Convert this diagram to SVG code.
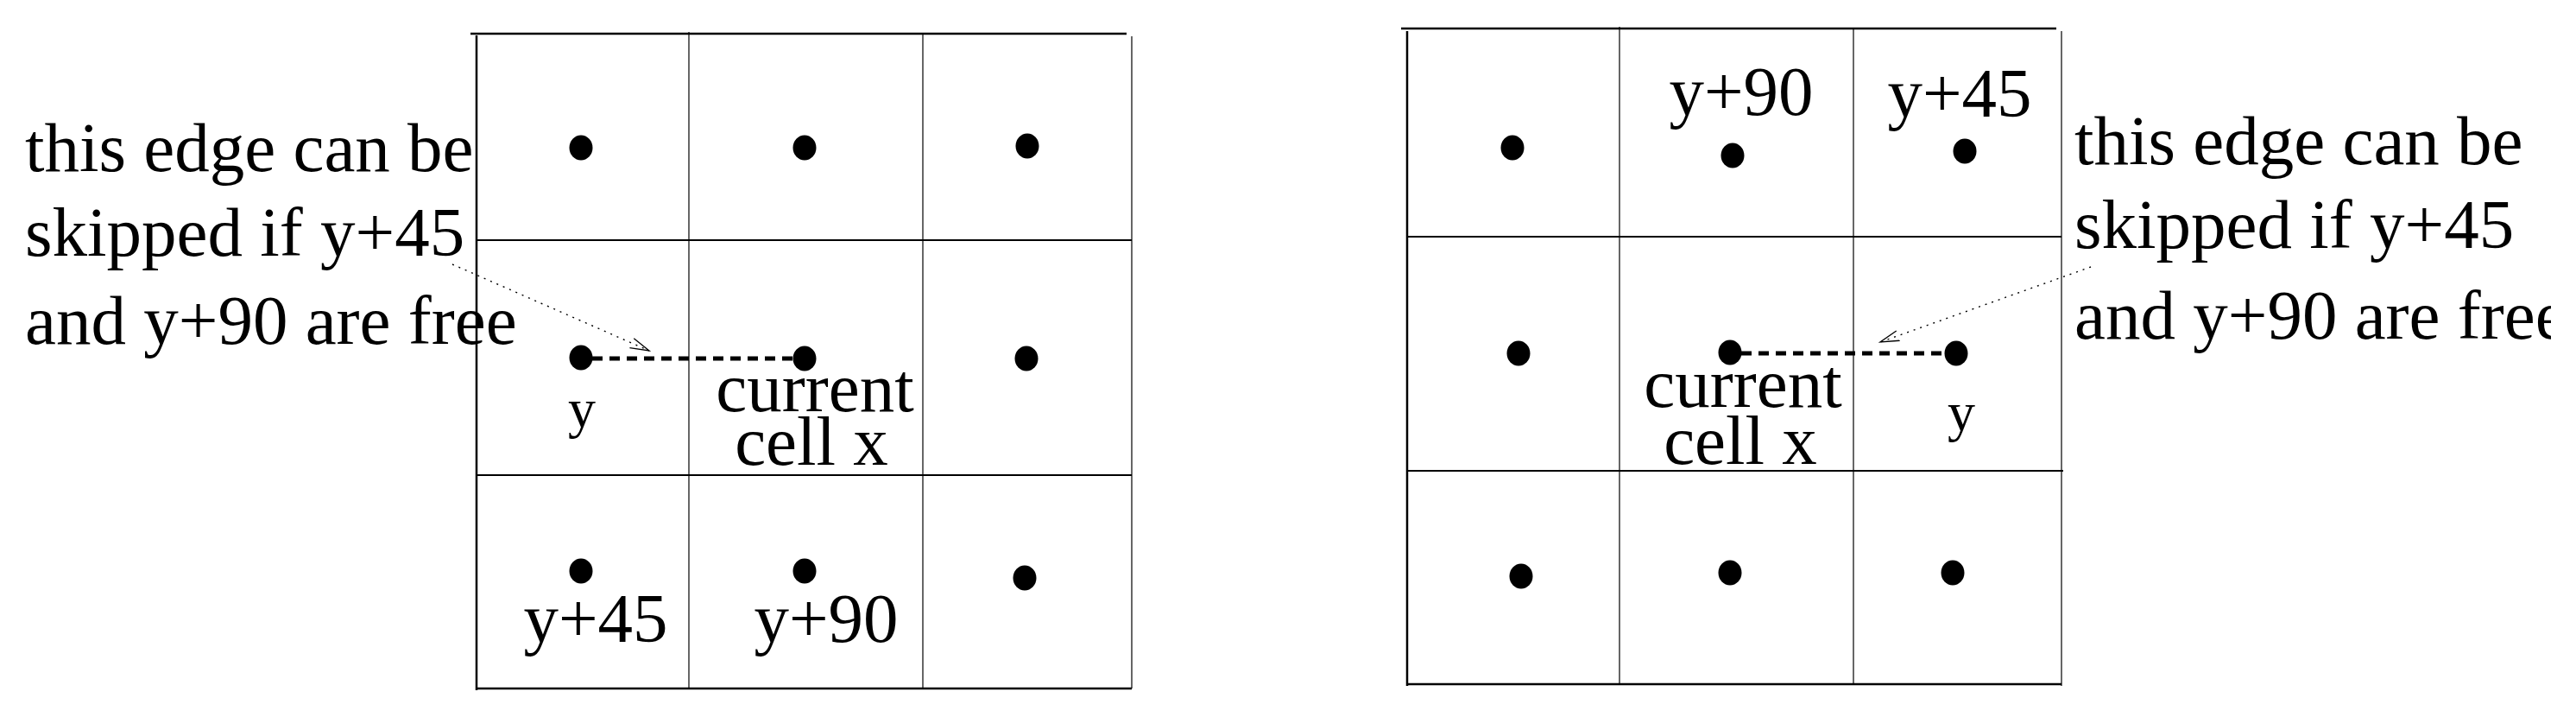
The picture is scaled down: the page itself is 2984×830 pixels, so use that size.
<svg xmlns="http://www.w3.org/2000/svg" width="2984" height="830" viewBox="0 0 2984 830">
<style>
.bg{fill:#fff}
.thick{stroke:#000;stroke-width:2.5;fill:none}
.mid{stroke:#000;stroke-width:2;fill:none}
.thin{stroke:#000;stroke-width:1.2;fill:none}
.dot{fill:#000}
.t{font-family:"Liberation Serif","Times New Roman",serif;font-size:81px;fill:#000}
.ts{font-family:"Liberation Serif","Times New Roman",serif;font-size:64px;fill:#000}
.dash{stroke:#000;stroke-width:5;stroke-dasharray:12 8;fill:none}
.dotted{stroke:#000;stroke-width:1.4;stroke-dasharray:2 6;fill:none}
</style>
<defs>
<marker id="open" markerUnits="userSpaceOnUse" markerWidth="24" markerHeight="14" refX="22" refY="7" orient="auto">
<path d="M0,1 L22,7 L0,13" fill="none" stroke="#000" stroke-width="1.3"/>
</marker>
<clipPath id="crop">
<rect x="0" y="0" width="2955" height="830"/>
</clipPath>
</defs>
<rect class="bg" x="0" y="0" width="2984" height="830"/>

<g id="grid-left">
<line class="thick" x1="545" y1="39" x2="1305" y2="39"/>
<line class="thick" x1="552" y1="41" x2="552" y2="799"/>
<line class="thick" x1="552" y1="797" x2="1311" y2="797"/>
<line class="thin" x1="1311" y1="42" x2="1311" y2="797"/>
<line class="thin" x1="798" y1="37" x2="798" y2="796"/>
<line class="thin" x1="1069" y1="39" x2="1069" y2="797"/>
<line class="mid" x1="552" y1="278" x2="1311" y2="278"/>
<line class="mid" x1="552" y1="550" x2="1311" y2="550"/>
</g>

<g id="grid-right">
<line class="thick" x1="1623" y1="33" x2="2382" y2="33"/>
<line class="thick" x1="1630" y1="36" x2="1630" y2="794"/>
<line class="thick" x1="1630" y1="792" x2="2388" y2="792"/>
<line class="thin" x1="2388" y1="36" x2="2388" y2="794"/>
<line class="thin" x1="1876" y1="31" x2="1876" y2="791"/>
<line class="thin" x1="2147" y1="33" x2="2147" y2="792"/>
<line class="mid" x1="1630" y1="274" x2="2388" y2="274"/>
<line class="mid" x1="1630" y1="545" x2="2390" y2="545"/>
</g>

<g id="dots-left">
<ellipse class="dot" cx="673" cy="171" rx="13.5" ry="14.5"/>
<ellipse class="dot" cx="932" cy="171" rx="13.5" ry="14.5"/>
<ellipse class="dot" cx="1190" cy="169" rx="13.5" ry="14.5"/>
<ellipse class="dot" cx="673" cy="414" rx="13.5" ry="14.5"/>
<ellipse class="dot" cx="932" cy="415" rx="13.5" ry="14.5"/>
<ellipse class="dot" cx="1189" cy="415" rx="13.5" ry="14.5"/>
<ellipse class="dot" cx="673" cy="661" rx="13.5" ry="14.5"/>
<ellipse class="dot" cx="932" cy="661" rx="13.5" ry="14.5"/>
<ellipse class="dot" cx="1187" cy="669" rx="13.5" ry="14.5"/>
</g>

<g id="dots-right">
<ellipse class="dot" cx="1752" cy="171" rx="13.5" ry="14.5"/>
<ellipse class="dot" cx="2007" cy="180" rx="13.5" ry="14.5"/>
<ellipse class="dot" cx="2276" cy="175" rx="13.5" ry="14.5"/>
<ellipse class="dot" cx="1759" cy="409" rx="13.5" ry="14.5"/>
<ellipse class="dot" cx="2004" cy="408" rx="13.5" ry="14.5"/>
<ellipse class="dot" cx="2266" cy="409" rx="13.5" ry="14.5"/>
<ellipse class="dot" cx="1762" cy="667" rx="13.5" ry="14.5"/>
<ellipse class="dot" cx="2004" cy="663" rx="13.5" ry="14.5"/>
<ellipse class="dot" cx="2262" cy="663" rx="13.5" ry="14.5"/>
</g>

<g id="connectors">
<line class="dash" x1="686" y1="415" x2="919" y2="415"/>
<line class="dash" x1="2017" y1="409" x2="2253" y2="409"/>
<line class="dotted" x1="524" y1="306" x2="752" y2="406" marker-end="url(#open)"/>
<line class="dotted" x1="2422" y1="309" x2="2178" y2="396" marker-end="url(#open)"/>
</g>

<g id="labels-left">
<text class="ts" x="674" y="494" text-anchor="middle">y</text>
<text class="t" text-anchor="middle"><tspan x="944" y="476">current</tspan><tspan x="940" y="538">cell x</tspan></text>
<text class="t" x="690" y="743" text-anchor="middle">y+45</text>
<text class="t" x="957" y="743" text-anchor="middle">y+90</text>
</g>

<g id="labels-right">
<text class="t" x="2017" y="133" text-anchor="middle">y+90</text>
<text class="t" x="2270" y="135" text-anchor="middle">y+45</text>
<text class="t" text-anchor="middle"><tspan x="2019" y="471">current</tspan><tspan x="2016" y="537">cell x</tspan></text>
<text class="ts" x="2272" y="498" text-anchor="middle">y</text>
</g>

<g id="note-left">
<text class="t"><tspan x="29" y="198">this edge can be</tspan><tspan x="29" y="296">skipped if y+45</tspan><tspan x="29" y="398">and y+90 are free</tspan></text>
</g>

<g id="note-right" clip-path="url(#crop)">
<text class="t"><tspan x="2403" y="190">this edge can be</tspan><tspan x="2403" y="287">skipped if y+45</tspan><tspan x="2403" y="392">and y+90 are free</tspan></text>
</g>
</svg>
